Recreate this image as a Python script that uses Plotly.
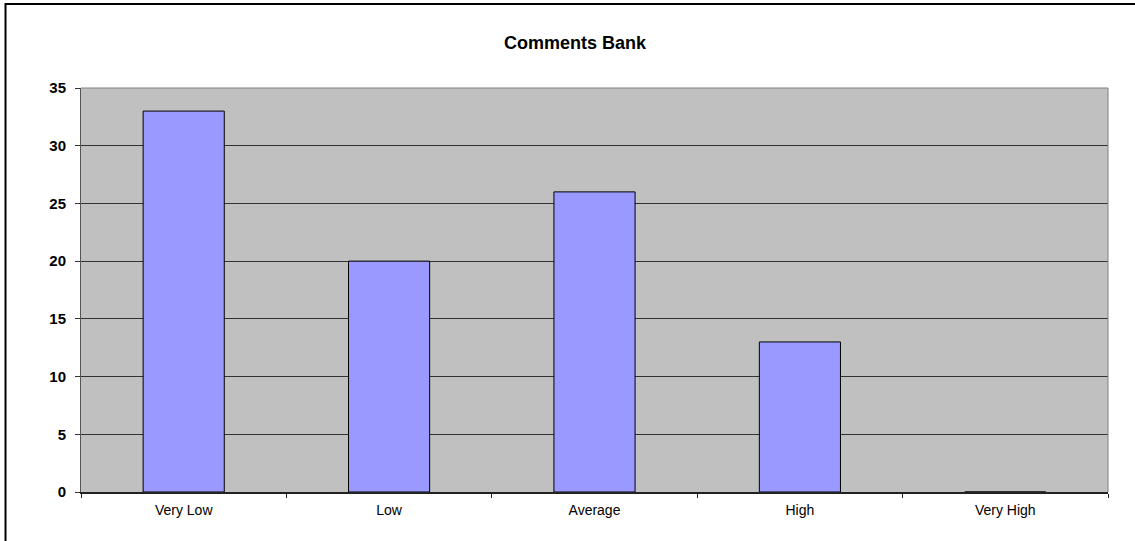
import plotly.graph_objects as go

categories = ["Very Low", "Low", "Average", "High", "Very High"]
values = [33, 20, 26, 13, 0]
y_ticks = [0, 5, 10, 15, 20, 25, 30, 35]
title_text = "Comments Bank"

FONT = "Liberation Sans, Arial, sans-serif"

fig = go.Figure()
fig.add_trace(go.Bar(
    x=categories, y=values,
    marker=dict(color="#9999FF", line=dict(color="#000000", width=1)),
    width=0.395,
))

fig.update_layout(
    width=1135, height=541,
    margin=dict(l=81, r=27, t=88, b=49),
    paper_bgcolor="white",
    plot_bgcolor="#C0C0C0",
    showlegend=False,
    title=dict(text="<b>" + title_text + "</b>", x=575 / 1135, xanchor="center",
               y=1 - 43 / 541, yanchor="middle",
               font=dict(family=FONT, size=18, color="black")),
    shapes=[
        dict(type="rect", xref="paper", yref="paper",
             x0=-0.0735, x1=1.2, y0=-0.5, y1=1.208,
             line=dict(color="black", width=2), fillcolor="rgba(0,0,0,0)", layer="above"),
    ],
)

fig.update_yaxes(
    range=[0, 35], tickvals=y_ticks,
    showgrid=True, gridcolor="#333333", gridwidth=1,
    ticks="outside", ticklen=5, tickcolor="#333333",
    showline=True, linecolor="#555555", linewidth=1, mirror=False,
    ticklabelstandoff=6,
    tickfont=dict(family=FONT, size=15, color="black", weight="bold"),
    zeroline=False,
)
fig.update_xaxes(
    tickson="boundaries", ticks="outside", ticklen=4, tickcolor="#222222",
    showgrid=False,
    showline=True, linecolor="#222222", linewidth=2,
    ticklabelstandoff=4,
    tickfont=dict(family=FONT, size=14, color="black"),
)
# light plot-area border on top and right
fig.add_shape(type="line", xref="paper", yref="paper", x0=0, x1=1, y0=1, y1=1,
              line=dict(color="#808080", width=1))
fig.add_shape(type="line", xref="paper", yref="paper", x0=1, x1=1, y0=0, y1=1,
              line=dict(color="#808080", width=1))

fig.write_html("out.html", config={"displayModeBar": False},
               post_script="document.body.style.margin='0';document.body.style.overflow='hidden';")
